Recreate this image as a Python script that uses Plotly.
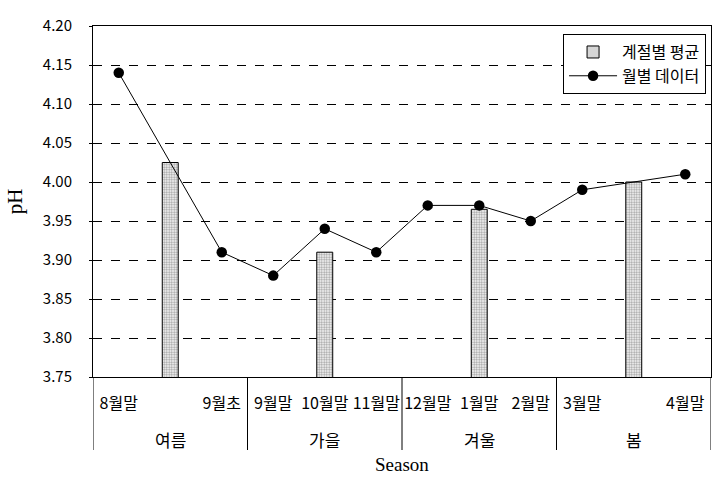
import plotly.graph_objects as go

# slot labels along x (blank slots hold the seasonal-average bars for 여름/봄)
slot_labels = ["8월말", "", "9월초", "9월말", "10월말", "11월말", "12월말", "1월말", "2월말", "3월말", "", "4월말"]
seasons = ["여름", "가을", "겨울", "봄"]
season_slots = [[0, 1, 2], [3, 4, 5], [6, 7, 8], [9, 10, 11]]

# seasonal averages (bars)
bar_slots = [1, 4, 7, 10]
bar_values = [4.025, 3.91, 3.965, 4.00]

# monthly data (line)
month_slots = [0, 2, 3, 4, 5, 6, 7, 8, 9, 11]
month_values = [4.14, 3.91, 3.88, 3.94, 3.91, 3.97, 3.97, 3.95, 3.99, 4.01]

y_ticks = [3.75, 3.80, 3.85, 3.90, 3.95, 4.00, 4.05, 4.10, 4.15, 4.20]

KFONT = "Noto Sans CJK KR"
SERIF = "Liberation Serif"

fig = go.Figure()
fig.add_trace(go.Bar(
    x=bar_slots, y=bar_values, name="계절별 평균", width=0.31,
    marker=dict(color="white", line=dict(color="black", width=1),
                pattern=dict(shape=".", fgcolor="#444444", bgcolor="white", size=2.5, solidity=0.5)),
))
fig.add_trace(go.Scatter(
    x=month_slots, y=month_values, name="월별 데이터", mode="lines+markers",
    line=dict(color="black", width=1),
    marker=dict(color="black", size=10.5, symbol="circle"),
))

shapes = []
bounds = [season_slots[0][0] - 0.5] + [g[-1] + 0.5 for g in season_slots]
for b in bounds:
    shapes.append(dict(type="line", xref="x", yref="paper", x0=b, x1=b, y0=0, y1=-0.208,
                       line=dict(color="black", width=1)))

annotations = []
for name, g in zip(seasons, season_slots):
    annotations.append(dict(text=name, x=sum(g) / len(g), y=-0.177, xref="x", yref="paper",
                            showarrow=False, yanchor="middle", font=dict(family=KFONT, size=17, color="black")))
annotations.append(dict(text="Season", x=0.5, y=-0.248, xref="paper", yref="paper", showarrow=False,
                        yanchor="middle", font=dict(family=SERIF, size=19, color="black")))

fig.update_layout(
    width=721, height=479,
    margin=dict(l=93, r=10, t=26, b=102),
    paper_bgcolor="white", plot_bgcolor="white",
    showlegend=True,
    legend=dict(x=0.992, y=0.977, xanchor="right", yanchor="top", bgcolor="white",
                bordercolor="black", borderwidth=1, font=dict(family=KFONT, size=16, color="black"),
                tracegroupgap=0, itemwidth=48),
    xaxis=dict(range=[-0.5, 11.5], tickvals=list(range(len(slot_labels))), ticktext=slot_labels,
               showgrid=False, zeroline=False, showline=True, linecolor="black", linewidth=1, mirror=True,
               ticks="", tickfont=dict(family=KFONT, size=16, color="black"), ticklabelstandoff=12),
    yaxis=dict(range=[3.75, 4.20], tickvals=y_ticks, ticktext=[f"{v:.2f}" for v in y_ticks],
               showgrid=True, gridcolor="black", griddash="dash", gridwidth=1,
               zeroline=False, showline=True, linecolor="black", linewidth=1, mirror=True,
               ticks="outside", ticklen=3, tickcolor="black",
               tickfont=dict(family=KFONT, size=15, color="black"), ticklabelstandoff=14,
               title=dict(text="pH", font=dict(family=SERIF, size=21, color="black"), standoff=14)),
    shapes=shapes, annotations=annotations,
    font=dict(family=KFONT),
)

fig.write_html("out.html")
